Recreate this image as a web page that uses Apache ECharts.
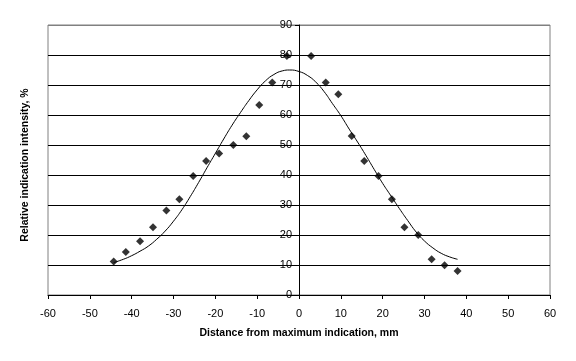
<!DOCTYPE html>
<html><head><meta charset="utf-8">
<script src="https://cdn.jsdelivr.net/npm/echarts@6/dist/echarts.min.js"></script>
<style>html,body{margin:0;padding:0;background:#fff}#c{width:576px;height:361px}</style>
</head><body><div id="c"></div>
<script>
// Measured points (distance mm, relative intensity %)
const pointX = [-44.3,-41.4,-38.0,-34.9,-31.7,-28.6,-25.3,-22.2,-19.1,-15.7,-12.6,-9.5,-6.4,-2.9,2.9,6.4,9.4,12.6,15.6,19.0,22.2,25.2,28.5,31.7,34.8,37.9];
const pointY = [11.2,14.3,17.9,22.6,28.2,31.9,39.7,44.7,47.2,50.0,52.9,63.3,70.8,79.7,79.7,70.8,66.9,53.0,44.7,39.7,31.9,22.6,20.0,11.9,9.9,8.0];
// Fitted curve
const curveX = [-44.3,-42,-40,-38,-36,-34,-32,-30,-28,-26,-24,-22,-20,-18,-16,-14,-12,-10,-8,-6,-4,-2.2,0,2,4,6,8,10,12,14,16,18,20,22,24,26,28,30,32,34,36,37.9];
const curveY = [10.8,11.9,13.1,14.6,16.3,18.6,21.3,24.6,28.4,32.8,37.5,42.4,47.2,52.0,56.6,60.8,64.8,68.4,71.4,73.5,74.7,75.0,74.5,73.2,71.0,67.8,63.8,59.8,55.3,51.0,46.5,41.8,37.2,33.0,28.8,24.8,21.0,18.0,15.7,13.9,12.7,11.9];
const xTicks = [-60,-50,-40,-30,-20,-10,0,10,20,30,40,50,60];
const yTicks = [0,10,20,30,40,50,60,70,80,90];

const gridLeft = 48, gridRight = 26, W = 576;
const plotW = W - gridLeft - gridRight;
const xMin = xTicks[0], xMax = xTicks[xTicks.length-1];
const zeroOffset = -plotW * (0 - xMin) / (xMax - xMin);

const chart = echarts.init(document.getElementById('c'), null, {renderer:'canvas'});
const font = 'Liberation Sans, Arial, sans-serif';
const splitColors = yTicks.map((v,i)=> i===yTicks.length-1 ? '#808080' : '#000000');
chart.setOption({
  animation:false,
  backgroundColor:'#ffffff',
  grid:{left:gridLeft,right:gridRight,top:25,bottom:66,show:true,borderColor:'#808080',borderWidth:1,backgroundColor:'transparent'},
  xAxis:{type:'value',min:xMin,max:xMax,interval:10,
    name:'Distance from maximum indication, mm',nameLocation:'middle',nameGap:33,
    nameTextStyle:{fontFamily:font,fontSize:10.5,fontWeight:'bold',color:'#000'},
    axisLine:{onZero:false,lineStyle:{color:'#000',width:1}},
    axisTick:{show:true,length:4,lineStyle:{color:'#000'}},
    axisLabel:{fontFamily:font,fontSize:11,color:'#000',margin:13},
    splitLine:{show:false}},
  yAxis:{type:'value',min:yTicks[0],max:yTicks[yTicks.length-1],interval:10,
    position:'left',offset:zeroOffset,
    axisLine:{show:true,onZero:false,lineStyle:{color:'#000',width:1}},
    axisTick:{show:true,length:4,lineStyle:{color:'#000'}},
    axisLabel:{fontFamily:font,fontSize:11,color:'#000',margin:7},
    splitLine:{show:true,lineStyle:{color:splitColors,width:1}}},
  graphic:[{type:'text',rotation:Math.PI/2,
    style:{text:'Relative indication intensity, %',font:'bold 10.5px '+font,fill:'#000',align:'center',verticalAlign:'middle'},
    x:25,y:165}],
  series:[
    {type:'line',data:curveX.map((x,i)=>[x,curveY[i]]),smooth:0.5,showSymbol:false,
      lineStyle:{color:'#000',width:1},z:3},
    {type:'scatter',data:pointX.map((x,i)=>[x,pointY[i]]),symbol:'diamond',symbolSize:8,
      itemStyle:{color:'#000'},z:4}
  ]
});
</script></body></html>
